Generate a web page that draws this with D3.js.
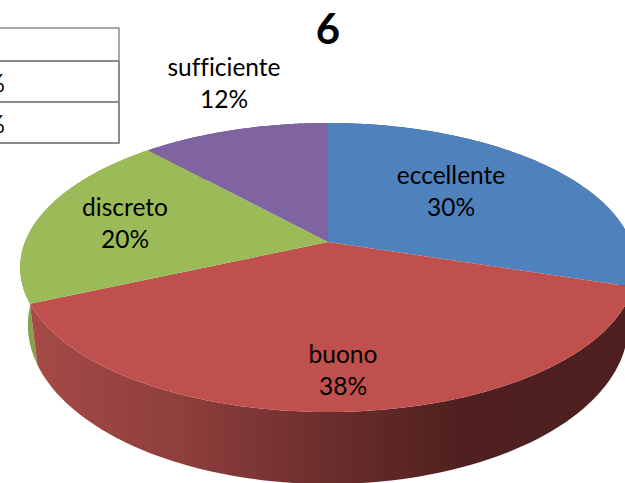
<!DOCTYPE html>
<html lang="en">
<head>
    <meta charset="utf-8">
    <title>pie 6</title>
    <script src="https://cdnjs.cloudflare.com/ajax/libs/d3/7.8.5/d3.min.js"></script>
    <style>
        html, body { margin: 0; padding: 0; background: #fff; overflow: hidden; }
        text { font-family: Lato, "Open Sans", sans-serif; fill: #000; font-variant-ligatures: none; }
    </style>
</head>
<body>
    <script>
    // chart values (labels show them rounded)
    var categories = ["eccellente", "buono", "discreto", "sufficiente"];
    var values = [29.9, 38.4, 20, 11.7];
    var topColors = ["#4f81bd", "#c0504d", "#9bbb59", "#8064a2"];
    var sideColors = ["#2a4a70", "url(#redSide)", "#86a34c", "#6b5488"];
    var tableRows = ["", "%", "%"];

    var width = 625, height = 483;

    // label centres, set by hand like the manually placed labels of the original
    var labelPos = [[451, 192], [343, 371], [125, 224], [224, 84]];

    var svg = d3.select("body").append("svg")
        .attr("width", width)
        .attr("height", height);

    // horizontal shading of the red wall
    var grad = svg.append("defs").append("linearGradient")
        .attr("id", "redSide")
        .attr("gradientUnits", "userSpaceOnUse")
        .attr("x1", 30).attr("x2", 625).attr("y1", 0).attr("y2", 0);
    [[0, "#a54a47"], [0.25, "#8f3f3c"], [0.5, "#6c2e2c"], [0.72, "#4f201f"], [1, "#4d1f1e"]].forEach(function(s) {
        grad.append("stop").attr("offset", s[0]).attr("stop-color", s[1]);
    });

    // perspective projection of the unit disc
    var cx = 328, cy = 242, R = 303, H = 140, k = 0.1765;
    function project(a, yScale, xScale, dy) {
        var u = Math.sin(a), v = -Math.cos(a), w = 1 - k * v;
        return [cx + xScale * R * u / w, cy + dy + yScale * H * v / w];
    }
    function topPoint(a) { return project(a, 1, 1, 0); }
    function bottomPoint(a) { return project(a, 1.1, 0.975, 55); }

    var pie = d3.pie().sort(null)(values);
    var line = d3.line();

    function arcAngles(d) {
        return d3.range(0, 81).map(function(i) {
            return d.startAngle + (d.endAngle - d.startAngle) * i / 80;
        });
    }

    // walls first, red last since it sits in front
    [3, 0, 2, 1].forEach(function(i) {
        var angles = arcAngles(pie[i]);
        var pts = angles.map(topPoint).concat(angles.slice().reverse().map(bottomPoint));
        svg.append("path")
            .attr("d", line(pts) + "Z")
            .attr("fill", sideColors[i]);
    });

    // top faces
    svg.selectAll("path.slice")
        .data(pie)
        .enter()
        .append("path")
        .attr("class", "slice")
        .attr("fill", function(d, i) { return topColors[i]; })
        .attr("d", function(d) {
            return line([[cx, cy]].concat(arcAngles(d).map(topPoint))) + "Z";
        });

    // title
    svg.append("text")
        .attr("x", 328)
        .attr("y", 44)
        .attr("text-anchor", "middle")
        .attr("font-size", 42)
        .attr("font-weight", "bold")
        .text("6");

    // slice labels
    var labels = svg.selectAll("g.label")
        .data(categories)
        .enter()
        .append("g")
        .attr("class", "label")
        .attr("transform", function(d, i) { return "translate(" + labelPos[i] + ")"; });

    labels.append("text")
        .attr("text-anchor", "middle")
        .attr("font-size", 24.5)
        .attr("y", -8)
        .text(function(d) { return d; });

    labels.append("text")
        .attr("text-anchor", "middle")
        .attr("font-size", 24.5)
        .attr("y", 24)
        .text(function(d, i) { return Math.round(values[i]) + "%"; });

    // leftover table, cut by the left edge
    var rowY = [28, 61, 102, 143];
    var table = svg.append("g")
        .attr("fill", "none")
        .attr("stroke", "#8c8c8c")
        .attr("stroke-linejoin", "round");
    table.append("path")
        .attr("stroke-width", 1.5)
        .attr("d", "M0," + rowY[0] + "H119V" + rowY[1]);
    table.append("path")
        .attr("stroke-width", 2)
        .attr("d", "M0," + rowY[1] + "H119V" + rowY[3] + "H0M0," + rowY[2] + "H119");

    svg.selectAll("text.cell")
        .data(tableRows)
        .enter()
        .append("text")
        .attr("class", "cell")
        .attr("x", 5)
        .attr("y", function(d, i) { return rowY[i + 1] - (i === 0 ? 0 : 10); })
        .attr("text-anchor", "end")
        .attr("font-size", 24.5)
        .text(function(d) { return d; });
    </script>
</body>
</html>
